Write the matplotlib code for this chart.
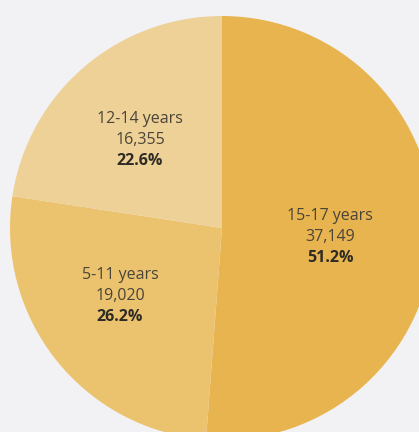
import matplotlib
matplotlib.use("Agg")
import matplotlib.pyplot as plt

groups = ["15-17 years", "5-11 years", "12-14 years"]
counts = [37149, 19020, 16355]
shares = [51.2, 26.2, 22.6]
colors = ["#E8B44F", "#EBC36F", "#EDD197"]
label_pos = [(330, 237), (120, 296), (140, 140)]

W, H = 419, 432
fig = plt.figure(figsize=(W / 100, H / 100), dpi=100, facecolor="#F2F2F4")
ax = fig.add_axes([0, 0, 1, 1])

# pie drawn in pixel space; y axis is flipped so go counter-clockwise on screen
ax.pie(shares, colors=colors, startangle=-90, counterclock=True,
       center=(222, 228), radius=212, frame=True,
       wedgeprops=dict(linewidth=0))
ax.set_xlim(0, W)
ax.set_ylim(H, 0)
ax.set_aspect("equal")
ax.axis("off")

for g, c, s, (x, y) in zip(groups, counts, shares, label_pos):
    ax.text(x, y - 21, g, ha="center", va="center", fontsize=11.5,
            family="Open Sans", color="#4a4439")
    ax.text(x, y, f"{c:,}", ha="center", va="center", fontsize=11.5,
            family="Open Sans", color="#4a4439")
    ax.text(x, y + 21, f"{s}%", ha="center", va="center", fontsize=11.5,
            family="Open Sans", weight="bold", color="#2e2a24")

fig.savefig("out.png", dpi=100, facecolor=fig.get_facecolor())
